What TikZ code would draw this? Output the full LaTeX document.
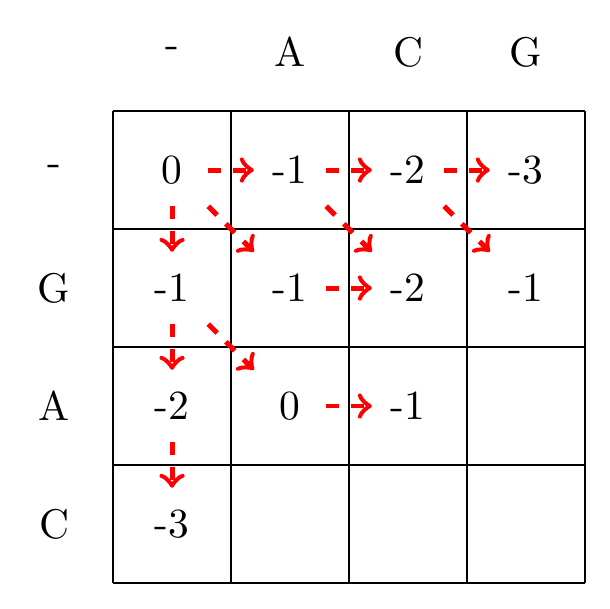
\documentclass[tikz,border=0pt]{standalone}

\begin{document}
\begin{tikzpicture}

\def\cellsep{1.0cm}

\tikzstyle{score}=[rectangle,minimum size=0.6cm,inner sep=0pt]
\tikzstyle{seqLabel}=[rectangle,minimum size=0.6cm,inner sep=0pt]
\tikzstyle{trace}=[->,red,very thick,dashed]

\useasboundingbox (-0.958,-4.212) rectangle (4.212,0.941);

%Grid
\draw (0,-4*\cellsep) grid (4*\cellsep,0);

%Sequence labels
\node[seqLabel] (top0) at (0.5*\cellsep,0.5*\cellsep) {-};
\node[seqLabel] (top1) at (1.5*\cellsep,0.5*\cellsep) {A};
\node[seqLabel] (top2) at (2.5*\cellsep,0.5*\cellsep) {C};
\node[seqLabel] (top3) at (3.5*\cellsep,0.5*\cellsep) {G};

\node[seqLabel] (side0) at (-0.5*\cellsep,-0.5*\cellsep) {-};
\node[seqLabel] (side1) at (-0.5*\cellsep,-1.5*\cellsep) {G};
\node[seqLabel] (side2) at (-0.5*\cellsep,-2.5*\cellsep) {A};
\node[seqLabel] (side3) at (-0.5*\cellsep,-3.5*\cellsep) {C};

%Scores
\node[score] (s00) at (0.5*\cellsep,-0.5*\cellsep) {0};
\node[score] (s01) at (1.5*\cellsep,-0.5*\cellsep) {-1};
\node[score] (s02) at (2.5*\cellsep,-0.5*\cellsep) {-2};
\node[score] (s03) at (3.5*\cellsep,-0.5*\cellsep) {-3};

\node[score] (s10) at (0.5*\cellsep,-1.5*\cellsep) {-1};
\node[score] (s11) at (1.5*\cellsep,-1.5*\cellsep) {-1};
\node[score] (s12) at (2.5*\cellsep,-1.5*\cellsep) {-2};
\node[score] (s13) at (3.5*\cellsep,-1.5*\cellsep) {-1};

\node[score] (s20) at (0.5*\cellsep,-2.5*\cellsep) {-2};
\node[score] (s21) at (1.5*\cellsep,-2.5*\cellsep) {0};
\node[score] (s22) at (2.5*\cellsep,-2.5*\cellsep) {-1};

\node[score] (s30) at (0.5*\cellsep,-3.5*\cellsep) {-3};

%horizontal moves
\draw[trace] (s00) -- (s01);
\draw[trace] (s01) -- (s02);
\draw[trace] (s02) -- (s03);
\draw[trace] (s11) -- (s12);
\draw[trace] (s21) -- (s22);

%vertical moves
\draw[trace] (s00) -- (s10);
\draw[trace] (s10) -- (s20);
\draw[trace] (s20) -- (s30);

%diagonal moves
\draw[trace] (s00) -- (s11);
\draw[trace] (s01) -- (s12);
\draw[trace] (s02) -- (s13);
\draw[trace] (s10) -- (s21);

\end{tikzpicture}
\end{document}
